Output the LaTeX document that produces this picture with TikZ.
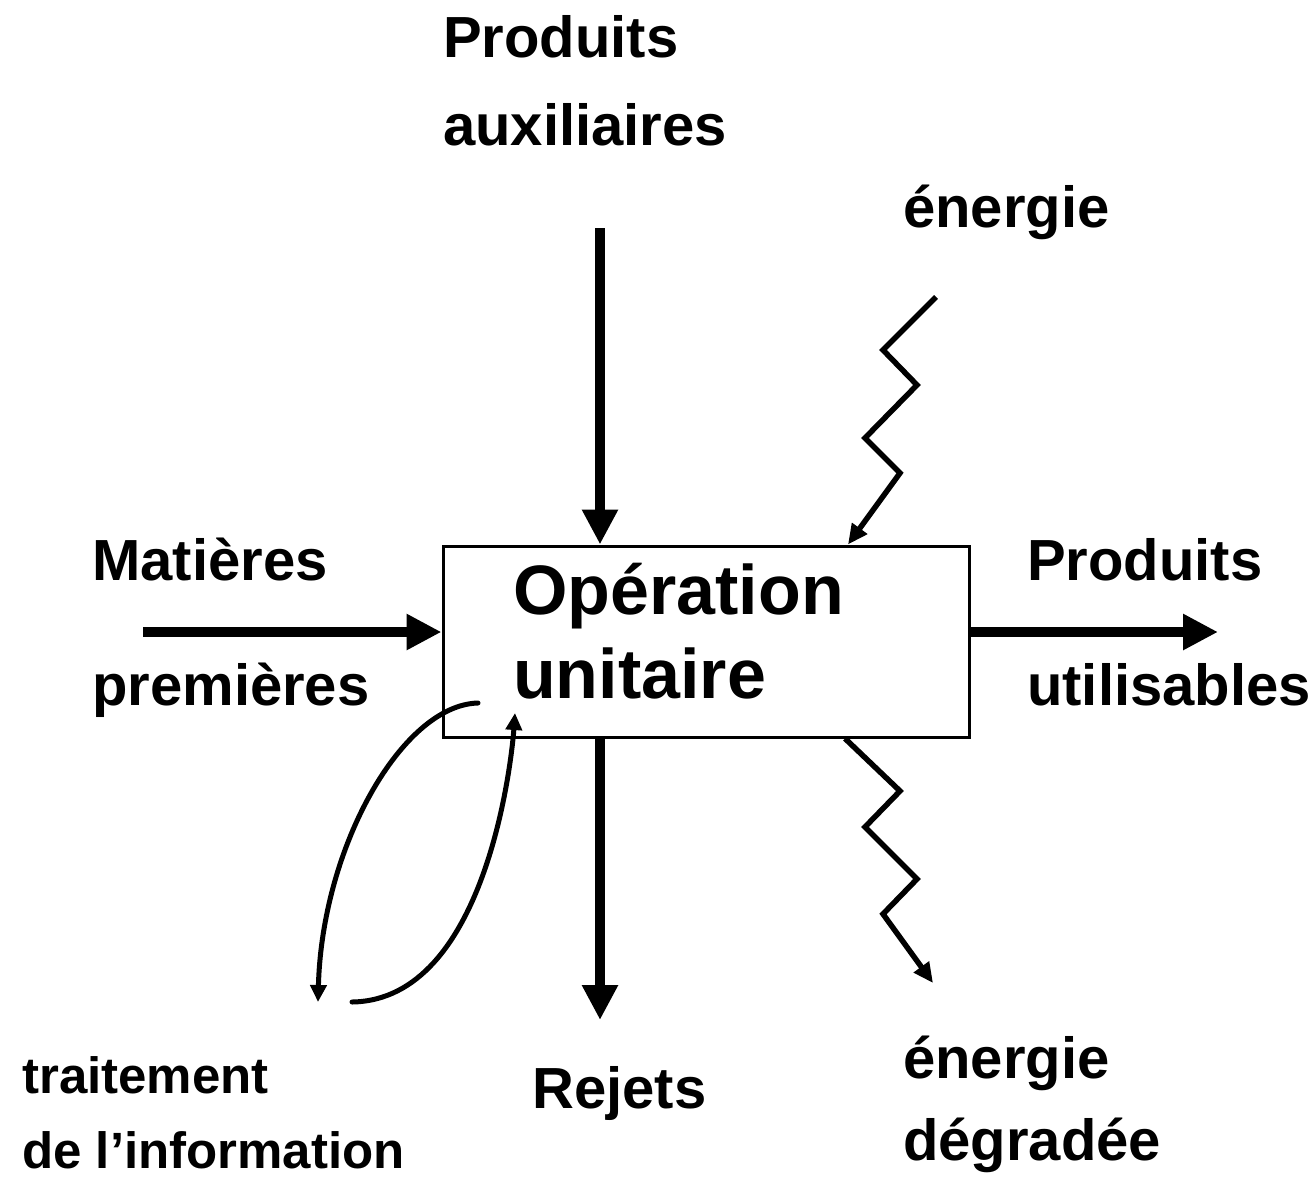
\documentclass[tikz,border=0pt]{standalone}
\usepackage{fontspec}
\setmainfont{Liberation Sans}
\usetikzlibrary{arrows.meta}
\begin{document}
\begin{tikzpicture}[x=1pt,y=-1pt,
  lbl/.style={anchor=base west, inner sep=0pt, align=left, font=\fontsize{58}{88}\selectfont\bfseries},
  flow/.style={line width=10pt, -{Triangle[length=35pt,width=34pt]}},
  zig/.style={line width=5.5pt, -{Triangle[length=20pt,width=18pt]}},
  fb/.style={line width=5pt, line cap=round, -{Triangle[length=17pt,width=16pt]}}]
\useasboundingbox (0,0) rectangle (1314,1181);
% unit operation
\node[draw, line width=3pt, minimum width=526pt, minimum height=191pt] (op) at (706,641.5) {};
\node[lbl, font=\fontsize{70}{84}\selectfont\bfseries] (optxt) at (513,698) {Opération\\unitaire};
% labels (base = last line)
\node[lbl] (aux) at (443,145) {Produits\\auxiliaires};
\node[lbl] (enin) at (903,227) {énergie};
\node[lbl, font=\fontsize{58}{125}\selectfont\bfseries] (mat) at (92,705) {Matières\\premières};
\node[lbl, font=\fontsize{58}{125}\selectfont\bfseries] (prod) at (1027,705) {Produits\\utilisables};
\node[lbl, font=\fontsize{51}{75}\selectfont\bfseries] (info) at (22,1168) {traitement\\de l’information};
\node[lbl] (rej) at (532,1108) {Rejets};
\node[lbl, font=\fontsize{58}{82}\selectfont\bfseries] (enout) at (903,1160) {énergie\\dégradée};
% material flows
\coordinate (auxtop) at (600,228);
\draw[flow] (auxtop) -- (auxtop |- op.north);
\coordinate (matleft) at (143,632);
\draw[flow] (matleft) -- (matleft -| op.west);
\coordinate (prodright) at (1218,632);
\draw[flow] (op.east |- prodright) -- (prodright);
\coordinate (rejbot) at (600,1020);
\draw[flow] (rejbot |- op.south) -- (rejbot);
% energy
\coordinate (zin) at (936,297);
\draw[zig] (zin) -- (883,350) -- (917,385) -- (865,438) -- (900,473) -- (848,0 |- op.north);
\coordinate (zout) at (933,983);
\draw[zig] (845,0 |- op.south) -- (900,791) -- (865,827) -- (917,879) -- (883,914) -- (zout);
% information loop
\coordinate (fbA) at (478,703);
\coordinate (fbB) at (318,1002);
\coordinate (fbC) at (352,1002);
\coordinate (fbD) at (515,713);
\draw[fb] (fbA) .. controls (402,705) and (322,847) .. (fbB);
\draw[fb] (fbC) .. controls (487,1000) and (512,756) .. (fbD);
\end{tikzpicture}
\end{document}
